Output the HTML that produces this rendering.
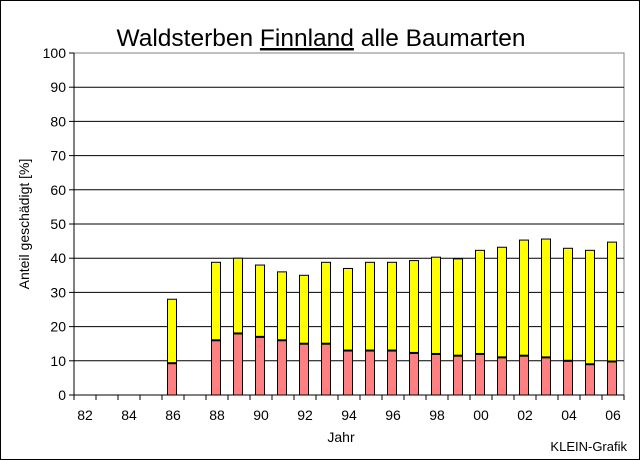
<!DOCTYPE html>
<html><head><meta charset="utf-8"><style>
body{margin:0;background:#fff}
svg{display:block;font-family:"Liberation Sans",Arial,sans-serif}
</style></head><body>
<svg width="640" height="460" viewBox="0 0 640 460">
<rect x="0.5" y="0.5" width="639" height="459" fill="#fff" stroke="#000"/>
<text x="321" y="46" font-size="24.5" text-anchor="middle">Waldsterben <tspan text-decoration="underline">Finnland</tspan> alle Baumarten</text>
<rect x="74" y="53" width="550" height="342" fill="none" stroke="#808080"/>
<g id="grid"></g>
<g id="bars"></g>
<g id="axes"></g>
<text transform="translate(29,224) rotate(-90)" font-size="14" text-anchor="middle">Anteil geschädigt [%]</text>
<text x="341" y="442" font-size="14" text-anchor="middle">Jahr</text>
<text x="627" y="451" font-size="13" text-anchor="end">KLEIN-Grafik</text>
</svg>
<script>
const years=["82","83","84","85","86","87","88","89","90","91","92","93","94","95","96","97","98","99","00","01","02","03","04","05","06"];
const totalValues=[null,null,null,null,28,null,38.8,40,38,36,35,38.8,37,38.8,38.8,39.3,40.3,39.8,42.3,43.2,45.3,45.6,42.9,42.3,44.7];
const redValues=[null,null,null,null,9.3,null,16,18,17,16,15,15,13,13,13,12.3,12,11.5,12,11,11.5,11,10,9,9.8];
const yTicks=[0,10,20,30,40,50,60,70,80,90,100];
const NS="http://www.w3.org/2000/svg";
const x0=74,x1=624,y0=395,y1=53;
const band=(x1-x0)/years.length;
const xs=i=>x0+band*(i+0.5);
const ys=v=>y0-(v/100)*(y0-y1);
function mk(tag,attrs,parent){const e=document.createElementNS(NS,tag);for(const k in attrs)e.setAttribute(k,attrs[k]);document.getElementById(parent).appendChild(e);return e;}
yTicks.forEach(t=>{
  if(t>0&&t<100){const g=mk('line',{x1:x0,x2:x1,y1:ys(t),y2:ys(t),stroke:'#000'},'grid');
  
  }
  const tk=mk('line',{x1:x0-5,x2:x0,y1:ys(t),y2:ys(t),stroke:'#000'},'axes');
  
  
  const lb=mk('text',{x:x0-8,y:ys(t)+5,'font-size':14,'text-anchor':'end'},'axes');
  lb.textContent=t;
  
  
});
const ax=mk('line',{x1:x0,x2:x0,y1:y1,y2:y0,stroke:'#000'},'axes');


const bx=mk('line',{x1:x0,x2:x1,y1:y0,y2:y0,stroke:'#000'},'axes');


for(let i=0;i<=years.length;i++){
  const t=mk('line',{x1:x0+band*i,x2:x0+band*i,y1:y0,y2:y0+5,stroke:'#000'},'axes');
  
  
}
years.forEach((y,i)=>{
  if(i%2===0){const l=mk('text',{x:xs(i),y:y0+25,'font-size':14,'text-anchor':'middle'},'axes');
  l.textContent=y;
  
  }
  const tot=totalValues[i],r=redValues[i];
  if(tot==null)return;
  const w=9,bxp=xs(i)-w/2-1;
  const yb=mk('rect',{x:bxp,y:ys(tot),width:w,height:ys(r)-ys(tot),fill:'#ffff00',stroke:'#000','stroke-width':1},'bars');
  
  
  const rb=mk('rect',{x:bxp,y:ys(r),width:w,height:y0-ys(r),fill:'#ff8080',stroke:'#000','stroke-width':1},'bars');
  
  
  const sep=mk('line',{x1:bxp,x2:bxp+w,y1:ys(r),y2:ys(r),stroke:'#000','stroke-width':2},'bars');
  
  
});
</script>
</body></html>
